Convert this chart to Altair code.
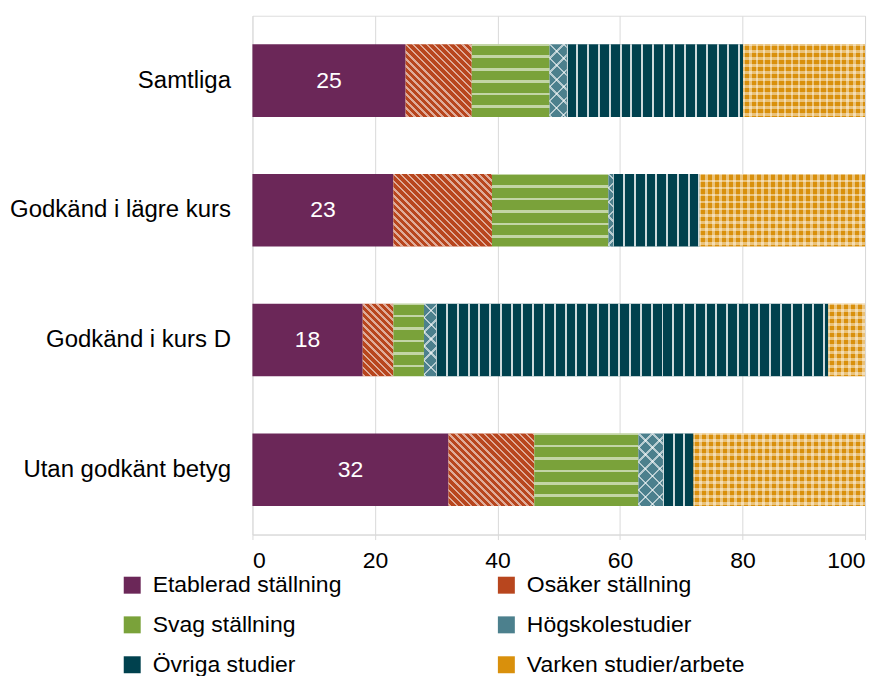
import math
import altair as alt

# ---------------- data ----------------
groups = ["Samtliga", "Godkänd i lägre kurs", "Godkänd i kurs D", "Utan godkänt betyg"]
segments = ["Etablerad ställning", "Osäker ställning", "Svag ställning",
            "Högskolestudier", "Övriga studier", "Varken studier/arbete"]
samtliga = [25, 10.8, 12.7, 2.8, 28.8, 19.9]
lagre_kurs = [23, 16.1, 19.0, 0.8, 14.1, 27.0]
kurs_d = [18, 5.0, 5.0, 2.0, 64.0, 6.0]
utan_betyg = [32, 14.0, 17.0, 4.0, 5.0, 28.0]
etablerad_labels = ["25", "23", "18", "32"]
x_ticks = [0, 20, 40, 60, 80, 100]

colors = ["#6B2758", "#B8461E", "#7AA23A", "#4C808D", "#00414E", "#D9900C"]

series = [samtliga, lagre_kurs, kurs_d, utan_betyg]

# ---------------- layout constants ----------------
PLOT_W = 614
PLOT_H = 520
PAD_INNER = 0.44
PAD_OUTER = 0.22
STEP = PLOT_H / (len(groups) - PAD_INNER + 2 * PAD_OUTER)
BAR_H = STEP * (1 - PAD_INNER)
PX = PLOT_W / 100.0
FONT = "Liberation Sans"
FS = 23


def stripe_gradient(w, h, nx, ny, period, lw, alpha):
    """Linear gradient (objectBoundingBox units) that draws white stripes
    with normal (nx, ny), fixed pixel period, on a w x h rectangle."""
    n = math.hypot(nx, ny)
    nx, ny = nx / n, ny / n
    corners = [(0, 0), (1, 0), (0, 1), (1, 1)]
    svals = [u * w * nx + v * h * ny for u, v in corners]
    smin, smax = min(svals), max(svals)
    D = smax - smin
    A = corners[svals.index(smin)]
    k = D / (nx * nx * w * w + ny * ny * h * h)
    x1, y1 = A
    x2, y2 = x1 + k * nx * w, y1 + k * ny * h
    col = "rgba(255,255,255,%s)" % alpha
    clear = "rgba(255,255,255,0)"
    stops = [{"offset": 0, "color": clear}]
    c = math.ceil((smin - lw / 2) / period) * period
    while c - lw / 2 < smax:
        t0 = min(max((c - lw / 2 - smin) / D, 0), 1)
        t1 = min(max((c + lw / 2 - smin) / D, 0), 1)
        stops += [{"offset": round(t0, 5), "color": clear},
                  {"offset": round(t0, 5), "color": col},
                  {"offset": round(t1, 5), "color": col},
                  {"offset": round(t1, 5), "color": clear}]
        c += period
    stops.append({"offset": 1, "color": clear})
    return {"gradient": "linear", "x1": round(x1, 5), "y1": round(y1, 5),
            "x2": round(x2, 5), "y2": round(y2, 5), "stops": stops}


# pattern definitions: list of (nx, ny, period, linewidth, alpha) per segment
patterns = {
    "Etablerad ställning": [],
    "Osäker ställning": [(1, -1, 5.0, 1.8, 0.55)],
    "Svag ställning": [(0, 1, 12.5, 2.6, 0.55)],
    "Högskolestudier": [(1, -1, 10.0, 1.6, 0.6), (1, 1, 10.0, 1.6, 0.6)],
    "Övriga studier": [(1, 0, 10.8, 2.0, 0.8)],
    "Varken studier/arbete": [(1, 0, 7.0, 2.8, 0.45), (0, 1, 7.0, 2.8, 0.45)],
}

bars, over1, over2, labels = [], [], [], []
for g, vals, lab in zip(groups, series, etablerad_labels):
    start = 0.0
    for seg, v in zip(segments, vals):
        end = start + v
        rec = {"group": g, "segment": seg, "start": start, "end": end}
        bars.append(rec)
        pats = patterns[seg]
        w = v * PX
        if len(pats) >= 1:
            over1.append(dict(rec, grad=stripe_gradient(w, BAR_H, *pats[0])))
        if len(pats) >= 2:
            over2.append(dict(rec, grad=stripe_gradient(w, BAR_H, *pats[1])))
        if seg == segments[0]:
            labels.append({"group": g, "mid": (start + end) / 2, "label": lab})
        start = end

y_enc = alt.Y("group:N", sort=groups,
              scale=alt.Scale(paddingInner=PAD_INNER, paddingOuter=PAD_OUTER),
              axis=alt.Axis(title=None, domain=False, ticks=False, tickSize=0,
                            labelPadding=22, labelFontSize=24, labelColor="#000000",
                            labelFont=FONT, labelLimit=0))
x_enc = alt.X("start:Q", scale=alt.Scale(domain=[0, 100], nice=False),
              axis=alt.Axis(title=None, values=x_ticks, format="d", grid=True,
                            gridColor="#D9D9D9", domainColor="#D9D9D9",
                            tickColor="#D9D9D9", tickSize=5, labelPadding=10,
                            labelFontSize=FS, labelColor="#000000", labelFont=FONT))

base = alt.Chart(alt.Data(values=bars)).mark_bar().encode(
    y=y_enc,
    x=x_enc,
    x2="end:Q",
    color=alt.Color("segment:N",
                    scale=alt.Scale(domain=segments, range=colors),
                    legend=alt.Legend(title=None, orient="none", legendX=-132, legendY=559,
                                      direction="horizontal",
                                      columns=2, columnPadding=153, rowPadding=16,
                                      symbolType="square", symbolSize=289,
                                      symbolStrokeWidth=0, labelFontSize=FS,
                                      labelFont=FONT, labelColor="#000000",
                                      labelOffset=9, labelLimit=0, padding=0)),
)

overlay1 = alt.Chart(alt.Data(values=over1)).mark_bar().encode(
    y=alt.Y("group:N", sort=groups),
    x=alt.X("start:Q"),
    x2="end:Q",
    fill=alt.Fill("grad:N", scale=None),
)
overlay2 = alt.Chart(alt.Data(values=over2)).mark_bar().encode(
    y=alt.Y("group:N", sort=groups),
    x=alt.X("start:Q"),
    x2="end:Q",
    fill=alt.Fill("grad:N", scale=None),
)

text = alt.Chart(alt.Data(values=labels)).mark_text(
    color="white", fontSize=FS, font=FONT, align="center", baseline="middle"
).encode(
    y=alt.Y("group:N", sort=groups),
    x=alt.X("mid:Q"),
    text="label:N",
)

chart = alt.layer(base, overlay1, overlay2, text).properties(
    width=PLOT_W, height=PLOT_H,
    autosize=alt.AutoSizeParams(type="none"),
    padding={"left": 245, "top": 7, "right": 16, "bottom": 141},
).configure_view(stroke=None).configure(font=FONT)

chart.save("out.html", embed_options={"renderer": "svg", "actions": False})
